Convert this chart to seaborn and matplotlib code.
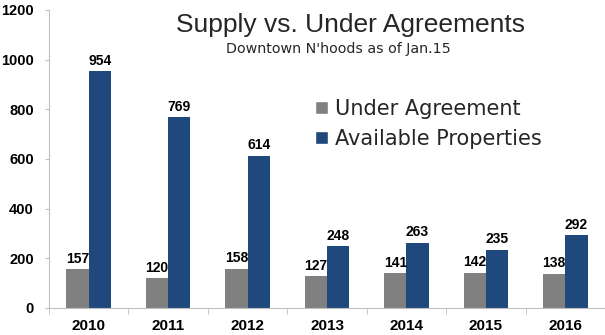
import matplotlib
matplotlib.use("Agg")
import matplotlib.pyplot as plt
import seaborn as sns
import pandas as pd
from matplotlib.patches import Patch

years = ["2010", "2011", "2012", "2013", "2014", "2015", "2016"]
under_agreement = [157, 120, 158, 127, 141, 142, 138]
available = [954, 769, 614, 248, 263, 235, 292]
series = ["Under Agreement", "Available Properties"]
colors = ["#808080", "#1F497D"]
yticks = [0, 200, 400, 600, 800, 1000, 1200]

df = pd.DataFrame({
    "year": years * 2,
    "value": under_agreement + available,
    "series": [series[0]] * len(years) + [series[1]] * len(years),
})

sns.set_style("white")
plt.rcParams["font.family"] = ["Liberation Sans", "DejaVu Sans"]

fig = plt.figure(figsize=(6.05, 3.35), dpi=100)
ax = fig.add_axes([0.081, 0.0806, 0.919, 0.8896])
sns.barplot(data=df, x="year", y="value", hue="series", palette=colors,
            width=0.56, ax=ax, legend=False, saturation=1, linewidth=0)

for c in ax.containers:
    ax.bar_label(c, fontsize=10, fontweight="bold", padding=2.5, color="black")

ax.set_ylim(0, 1200)
ax.set_xlim(-0.5, 6.5)
ax.set_yticks(yticks)
ax.set_xlabel("")
ax.set_ylabel("")
for s in ["top", "right"]:
    ax.spines[s].set_visible(False)
for s in ["left", "bottom"]:
    ax.spines[s].set_color("#BFBFBF")
ax.tick_params(axis="y", length=3, color="#BFBFBF", labelsize=10.5, labelcolor="black",
               direction="out", left=True, pad=8)
ax.tick_params(axis="x", length=0, labelsize=11, labelcolor="black", pad=8)
for lbl in ax.get_xticklabels() + ax.get_yticklabels():
    lbl.set_fontweight("bold")
ax.set_xticks([i + 0.5 for i in range(-1, 7)], minor=True)
ax.tick_params(axis="x", which="minor", length=4, color="#BFBFBF", bottom=True)

fig.text(0.579, 0.9045, "Supply vs. Under Agreements", fontsize=19, ha="center", va="baseline")
fig.text(0.5595, 0.842, "Downtown N'hoods as of Jan.15", fontsize=10.3, ha="center",
         va="baseline", family="DejaVu Sans")

handles = [Patch(facecolor=c) for c in colors]
fig.legend(handles, series, loc="upper left", bbox_to_anchor=(0.521, 0.704),
           frameon=False, prop={"family": "DejaVu Sans", "size": 15},
           handlelength=0.6, handleheight=0.6,
           handletextpad=0.34, labelspacing=0.48, borderaxespad=0, borderpad=0)

fig.savefig("out.png", dpi=100)
